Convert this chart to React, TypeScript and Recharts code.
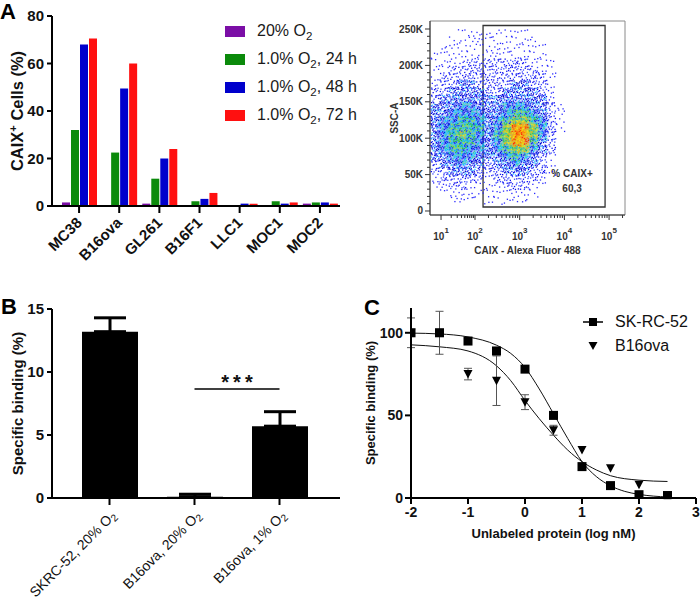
import React from 'react';
import {
  BarChart, Bar, XAxis, YAxis, Legend, Label, ErrorBar, ReferenceLine,
  ScatterChart, Scatter, ReferenceArea, ComposedChart, Line,
} from 'recharts';

const FONT = '"Liberation Sans", Arial, Helvetica, sans-serif';

/* ---------------- Panel A : CAIX+ cells ---------------- */
const cellLines = ['MC38', 'B16ova', 'GL261', 'B16F1', 'LLC1', 'MOC1', 'MOC2'];
const caix20 = [1.5, 0, 1, 0, 0, 0, 1];
const caix24h = [32, 22.5, 11.5, 2, 0, 2, 1.5];
const caix48h = [68, 49.5, 20, 3, 1, 1, 1.5];
const caix72h = [70.5, 60, 24, 5.5, 1, 1.5, 1];
const seriesA = ['20% O2', '1.0% O2, 24 h', '1.0% O2, 48 h', '1.0% O2, 72 h'];
const colorsA = ['#7b0ea6', '#0b8a0b', '#0000cc', '#ff1010'];
const yTicksA = [0, 20, 40, 60, 80];

/* ---------------- Flow plot ---------------- */
const flowYMajor = [0, 50, 100, 150, 200, 250];
const flowYLabels = ['0', '50K', '100K', '150K', '200K', '250K'];
const flowDecadeU = [1.24, 2, 3, 4, 5];
const flowDecadeExp = ['1', '2', '3', '4', '5'];
const gateX = [2.18, 4.91];
const gateY = [5.5, 254.8];
const gateName = '% CAIX+';
const gateValue = '60,3';
const flowXLabel = 'CAIX - Alexa Fluor 488';
const flowYLabel = 'SSC-A';
const densityX = [1.1, 1.3, 1.5, 1.7, 1.9, 2.1, 2.3, 2.5, 2.7, 2.9, 3.1, 3.3, 3.5, 3.7, 3.9, 4.1];
const densityY = [245, 235, 225, 215, 205, 195, 185, 175, 165, 155, 145, 135, 125, 115, 105, 95, 85, 75, 65, 55, 45, 35, 25, 15];
const densityRows = [
  '0001111111100000',
  '0011111111110000',
  '0111111111111000',
  '1111111111111000',
  '1111222222211100',
  '1122222222221100',
  '1222222222222100',
  '1223322223322100',
  '2233332233332100',
  '2333333333333100',
  '3334433344433210',
  '3344443345543210',
  '3445543456654210',
  '3455553467764210',
  '3456543567764200',
  '3455543467753200',
  '3455443456643200',
  '3344433345432100',
  '2334332334332100',
  '2233322233322100',
  '1222221222221000',
  '1122111122211000',
  '0111111111110000',
  '0011101111100000',
];

/* ---------------- Panel B : binding ---------------- */
const bindGroups = ['SKRC-52, 20% O2', 'B16ova, 20% O2', 'B16ova, 1% O2'];
const bindMean = [13.2, 0.1, 5.7];
const bindErrUp = [1.1, 0.2, 1.15];
const yTicksB = [0, 5, 10, 15];
const sigY = 8.65;
const sigMark = '***';

/* ---------------- Panel C : competition ---------------- */
const skX = [-2, -1.5, -1, -0.5, 0, 0.5, 1, 1.5, 2, 2.5];
const skY = [100, 100, 95, 89, 78, 50, 19, 7.5, 2, 1.5];
const skErr = [0, 0, 0, 2, 0, 0, 0, 0, 0, 2];
const b16X = [-2, -1.5, -1, -0.5, 0, 0.5, 1, 1.5, 2];
const b16Y = [100, 100, 75, 71, 58, 41, 29, 18, 8];
const b16Err = [9, 13, 3.5, 15, 4.5, 3, 0, 0, 0];
const skFitX = [-2, -1.5, -1, -0.5, -0.25, 0, 0.25, 0.5, 0.75, 1, 1.25, 1.5, 1.75, 2, 2.5];
const skFitY = [99.8, 99.3, 97.5, 92.5, 87.5, 79, 66, 51, 36, 22, 13, 7.4, 4, 2.2, 0.6];
const b16FitX = [-2, -1.5, -1, -0.5, -0.25, 0, 0.25, 0.5, 0.75, 1, 1.25, 1.5, 2, 2.5];
const b16FitY = [92.7, 91.5, 89, 80, 71, 59, 48, 38, 29, 22, 17, 13.5, 10.8, 10];
const xTicksC = [-2, -1, 0, 1, 2, 3];
const yTicksC = [0, 50, 100];
const legendC = ['SK-RC-52', 'B16ova'];

/* ---------------- helpers ---------------- */
const htmlO2 = (s: string) => {
  const i = s.indexOf('O2');
  if (i < 0) return s;
  return (
    <>
      {s.slice(0, i + 1)}
      <sub style={{ fontSize: '0.72em', lineHeight: 0 }}>2</sub>
      {s.slice(i + 2)}
    </>
  );
};
const svgO2 = (s: string, fs: number) => {
  const i = s.indexOf('O2');
  if (i < 0) return s;
  return [
    <tspan key="a">{s.slice(0, i + 1)}</tspan>,
    <tspan key="b" fontSize={fs * 0.72} dy={fs * 0.18}>2</tspan>,
  ];
};

const vLabel = (content: React.ReactNode, dx: number, fs: number, fill = '#111') => (lp: any) => {
  const vb = lp.viewBox || { x: 0, y: 0, width: 0, height: 0 };
  const cx = vb.x + dx;
  const cy = vb.y + vb.height / 2;
  return (
    <text transform={`translate(${cx},${cy}) rotate(-90)`} textAnchor="middle" dy="0.35em"
      fontFamily={FONT} fontWeight="bold" fontSize={fs} fill={fill}>{content}</text>
  );
};
const hLabel = (content: React.ReactNode, dy: number, fs: number, fill = '#111') => (lp: any) => {
  const vb = lp.viewBox || { x: 0, y: 0, width: 0, height: 0 };
  return (
    <text x={vb.x + vb.width / 2} y={vb.y + dy} textAnchor="middle" dy="0.35em"
      fontFamily={FONT} fontWeight="bold" fontSize={fs} fill={fill}>{content}</text>
  );
};

const makeYTick = (len: number, gap: number, fs: number) => (p: any) => (
  <g>
    <line x1={p.x - len} y1={p.y} x2={p.x} y2={p.y} stroke="#000" strokeWidth={2} />
    <text x={p.x - len - gap} y={p.y} dy="0.35em" textAnchor="end" fontFamily={FONT}
      fontWeight="bold" fontSize={fs} fill="#111">{p.payload.value}</text>
  </g>
);

/* ---------------- Panel A ---------------- */
const TickA = (p: any) => (
  <g>
    <line x1={p.x} y1={p.y} x2={p.x} y2={p.y + 7} stroke="#000" strokeWidth={2} />
    <text transform={`translate(${p.x},${p.y + 14}) rotate(-45)`} textAnchor="end" dy="0.35em"
      fontFamily={FONT} fontWeight="bold" fontSize={15} fill="#111">{p.payload.value}</text>
  </g>
);

const LegendA = () => (
  <div style={{ fontFamily: FONT, fontSize: 16, color: '#1a1a1a' }}>
    {seriesA.map((name, i) => (
      <div key={name} style={{ display: 'flex', alignItems: 'center', height: 28, whiteSpace: 'nowrap' }}>
        <span style={{ display: 'inline-block', width: 20, height: 11, background: colorsA[i], marginRight: 12 }} />
        <span>{htmlO2(name)}</span>
      </div>
    ))}
  </div>
);

const dataA = cellLines.map((name, i) => ({ name, s0: caix20[i], s1: caix24h[i], s2: caix48h[i], s3: caix72h[i] }));

const PanelA = () => (
  <BarChart width={380} height={290} data={dataA} margin={{ top: 16, right: 40, left: 0, bottom: 0 }}
    barCategoryGap={3} barGap={1}>
    <XAxis dataKey="name" padding={{ left: 7, right: 0 }} height={84} interval={0}
      axisLine={{ stroke: '#000', strokeWidth: 2 }} tickLine={false} tickSize={0} tickMargin={0}
      tick={(p: any) => <TickA {...p} />} />
    <YAxis domain={[0, 80]} ticks={yTicksA} width={52} interval={0}
      axisLine={{ stroke: '#000', strokeWidth: 2 }} tickLine={false} tickSize={0} tickMargin={0}
      tick={makeYTick(5, 3, 15)}>
      <Label content={vLabel(<>CAIX<tspan dy={-6} fontSize={11}>+</tspan><tspan dy={6}> Cells (%)</tspan></>, 17, 16.5)} />
    </YAxis>
    {['s0', 's1', 's2', 's3'].map((k, i) => (
      <Bar key={k} dataKey={k} name={seriesA[i]} fill={colorsA[i]} isAnimationActive={false} />
    ))}
    <Legend content={() => <LegendA />} layout="vertical" align="center" verticalAlign="middle"
      wrapperStyle={{ left: 225, top: 17, width: 160 }} />
  </BarChart>
);

/* ---------------- Flow plot ---------------- */
const FLOW_XDOM = [0.993, 5.356];
const FLOW_YDOM = [-5.5, 261];
const FLOW_W = 290, FLOW_H = 270;
const FLOW_M = { top: 21, right: 15, left: 0, bottom: 0 };
const FLOW_YAXW = 80, FLOW_XAXH = 55;
const FLOW_PW = FLOW_W - FLOW_M.left - FLOW_M.right - FLOW_YAXW;
const FLOW_PH = FLOW_H - FLOW_M.top - FLOW_M.bottom - FLOW_XAXH;
const CELL_W = (densityX[1] - densityX[0]) * FLOW_PW / (FLOW_XDOM[1] - FLOW_XDOM[0]);
const CELL_H = (densityY[0] - densityY[1]) * FLOW_PH / (FLOW_YDOM[1] - FLOW_YDOM[0]);

const PAT = [[0.12, 0.18], [0.62, 0.08], [0.35, 0.55], [0.85, 0.45], [0.22, 0.82], [0.55, 0.3], [0.78, 0.88], [0.05, 0.5],
  [0.45, 0.95], [0.92, 0.2], [0.3, 0.05], [0.68, 0.62], [0.15, 0.38], [0.48, 0.72], [0.88, 0.7], [0.02, 0.92],
  [0.4, 0.25], [0.72, 0.35], [0.25, 0.65], [0.6, 0.5], [0.95, 0.98], [0.08, 0.02], [0.52, 0.12], [0.8, 0.05]];
const levelBg = ['', '', '', '', '#2a46ff', '#18a8d8', '#6ccc48', '#f2a018'];
const levelBgOp = [0, 0, 0, 0, 0.4, 0.7, 0.85, 0.95];
const levelDots = [[], ['#2a2aff'], ['#1010f0', '#3a4aff'], ['#0000e6', '#1a3aff', '#30b8ff', '#0000c8'],
  ['#00c8ff', '#0010d8', '#30d8a0', '#1a30ff'], ['#30c030', '#00c0e0', '#1a30f0', '#a0e040'],
  ['#e8e820', '#30c060', '#20b0d0', '#ffb000'], ['#ff2a00', '#ffd000', '#ff7000', '#e8e820']];
const levelDotCount = [0, 3, 9, 20, 22, 20, 18, 18];

const densityCells = densityRows.flatMap((row, r) =>
  row.split('').map((ch, c) => ({ x: densityX[c], y: densityY[r], level: Number(ch), seed: (c * 7 + r * 5) % PAT.length })),
).filter((d) => d.level > 0);

const BgShape = (p: any) => {
  const lvl = p.payload.level;
  if (!levelBg[lvl]) return <g />;
  return <rect x={p.cx - CELL_W / 2 - 0.5} y={p.cy - CELL_H / 2 - 0.5} width={CELL_W + 1} height={CELL_H + 1}
    fill={levelBg[lvl]} fillOpacity={levelBgOp[lvl]} />;
};
const DotShape = (p: any) => {
  const { level, seed } = p.payload;
  const x0 = p.cx - CELL_W / 2, y0 = p.cy - CELL_H / 2;
  const cols = levelDots[level];
  const out = [];
  for (let k = 0; k < levelDotCount[level]; k++) {
    const q = PAT[(k + seed) % PAT.length];
    out.push(<rect key={k} x={x0 + q[0] * CELL_W} y={y0 + q[1] * CELL_H} width={1.3} height={1.3} fill={cols[k % cols.length]} />);
  }
  return <g>{out}</g>;
};

const flowYTicks: number[] = [];
for (let v = 0; v <= 250; v += 10) flowYTicks.push(v);
const flowXTicks: number[] = [...flowDecadeU];
for (let d = 0; d < flowDecadeU.length - 1; d++) {
  for (let k = 2; k <= 9; k++) flowXTicks.push(flowDecadeU[d] + (flowDecadeU[d + 1] - flowDecadeU[d]) * Math.log10(k));
}
flowXTicks.push(5 + Math.log10(2));

const FlowYTick = (p: any) => {
  const idx = flowYMajor.indexOf(p.payload.value);
  const major = idx >= 0;
  return (
    <g>
      <line x1={p.x - (major ? 5 : 3)} y1={p.y} x2={p.x} y2={p.y} stroke="#333" strokeWidth={1} />
      {major && (
        <text x={p.x - 7} y={p.y} dy="0.35em" textAnchor="end" fontFamily={FONT} fontWeight="bold"
          fontSize={10} fill="#333">{flowYLabels[idx]}</text>
      )}
    </g>
  );
};
const FlowXTick = (p: any) => {
  const idx = flowDecadeU.findIndex((u) => Math.abs(u - p.payload.value) < 1e-6);
  const major = idx >= 0;
  return (
    <g>
      <line x1={p.x} y1={p.y} x2={p.x} y2={p.y + (major ? 5 : 3)} stroke="#333" strokeWidth={1} />
      {major && (
        <text x={p.x} y={p.y + 25} textAnchor="middle" fontFamily={FONT} fontWeight="bold" fontSize={10} fill="#333">
          10<tspan dy={-7} fontSize={8}>{flowDecadeExp[idx]}</tspan>
        </text>
      )}
    </g>
  );
};

const gateLabel = (lp: any) => {
  const vb = lp.viewBox || { x: 0, y: 0, width: 0, height: 0 };
  const cx = vb.x + vb.width - 33;
  const by = vb.y + vb.height;
  return (
    <g fontFamily={FONT} fontWeight="bold" fontSize={10} fill="#333">
      <text x={cx} y={by - 33} dy="0.35em" textAnchor="middle">{gateName}</text>
      <text x={cx} y={by - 18} dy="0.35em" textAnchor="middle">{gateValue}</text>
    </g>
  );
};

const FlowPlot = () => (
  <ScatterChart width={FLOW_W} height={FLOW_H} margin={FLOW_M}>
    <XAxis dataKey="x" type="number" domain={FLOW_XDOM} allowDataOverflow ticks={flowXTicks} interval={0}
      height={FLOW_XAXH} axisLine={{ stroke: '#333' }} tickLine={false} tickSize={0} tickMargin={0}
      tick={(p: any) => <FlowXTick {...p} />}>
      <Label content={hLabel(flowXLabel, 35, 10, '#333')} />
    </XAxis>
    <YAxis dataKey="y" type="number" domain={FLOW_YDOM} allowDataOverflow ticks={flowYTicks} interval={0}
      width={FLOW_YAXW} axisLine={{ stroke: '#333' }} tickLine={false} tickSize={0} tickMargin={0}
      tick={(p: any) => <FlowYTick {...p} />}>
      <Label content={vLabel(flowYLabel, 44, 10, '#333')} />
    </YAxis>
    <Scatter data={densityCells} className="flow-bg" shape={(p: any) => <BgShape {...p} />} isAnimationActive={false} />
    <Scatter data={densityCells} shape={(p: any) => <DotShape {...p} />} isAnimationActive={false} />
    <ReferenceArea x1={FLOW_XDOM[0]} x2={FLOW_XDOM[1]} y1={FLOW_YDOM[0]} y2={FLOW_YDOM[1]} fill="none"
      fillOpacity={0} stroke="#8a8a8a" strokeWidth={1} ifOverflow="visible" />
    <ReferenceArea x1={gateX[0]} x2={gateX[1]} y1={gateY[0]} y2={gateY[1]} fill="none" fillOpacity={0}
      stroke="#333" strokeWidth={1.3} ifOverflow="visible" label={gateLabel} />
  </ScatterChart>
);

/* ---------------- Panel B ---------------- */
const TickB = (p: any) => (
  <g>
    <line x1={p.x} y1={p.y} x2={p.x} y2={p.y + 7} stroke="#000" strokeWidth={2} />
    <text transform={`translate(${p.x + 4},${p.y + 15}) rotate(-45)`} textAnchor="end" dy="0.35em"
      fontFamily={FONT} fontSize={14} fill="#111">{svgO2(p.payload.value, 14)}</text>
  </g>
);
const sigLabel = (lp: any) => {
  const vb = lp.viewBox || { x: 0, y: 0, width: 0, height: 0 };
  return (
    <text x={vb.x + vb.width / 2 + 2} y={vb.y} textAnchor="middle" fontFamily={FONT} fontWeight="bold"
      fontSize={20} letterSpacing={4} fill="#111">{sigMark}</text>
  );
};
const dataB = bindGroups.map((g, i) => ({ g, v: bindMean[i], e: [0, bindErrUp[i]] }));

const PanelB = () => (
  <BarChart width={350} height={305} data={dataB} margin={{ top: 14, right: 10, left: 0, bottom: 0 }} barSize={56}>
    <XAxis dataKey="g" padding={{ left: 15, right: 18 }} height={102} interval={0}
      axisLine={{ stroke: '#000', strokeWidth: 2 }} tickLine={false} tickSize={0} tickMargin={0}
      tick={(p: any) => <TickB {...p} />} />
    <YAxis domain={[0, 15]} ticks={yTicksB} width={52} interval={0}
      axisLine={{ stroke: '#000', strokeWidth: 2 }} tickLine={false} tickSize={0} tickMargin={0}
      tick={makeYTick(5, 3, 15)}>
      <Label content={vLabel('Specific binding (%)', 18, 15)} />
    </YAxis>
    <Bar dataKey="v" fill="#000" isAnimationActive={false}>
      <ErrorBar dataKey="e" width={16} strokeWidth={3} stroke="#000" direction="y" isAnimationActive={false} />
    </Bar>
    <ReferenceLine segment={[{ x: bindGroups[1], y: sigY }, { x: bindGroups[2], y: sigY }]} stroke="#000"
      strokeWidth={1.5} label={sigLabel} />
  </BarChart>
);

/* ---------------- Panel C ---------------- */
const SquareShape = (p: any) => <rect x={p.cx - 4.5} y={p.cy - 4.5} width={9} height={9} fill="#000" />;
const TriShape = (p: any) => <path d={`M${p.cx - 4.5},${p.cy - 4} L${p.cx + 4.5},${p.cy - 4} L${p.cx},${p.cy + 4.5} Z`} fill="#000" />;

const XTickC = (p: any) => (
  <g>
    <line x1={p.x} y1={p.y} x2={p.x} y2={p.y + 6} stroke="#000" strokeWidth={2} />
    <text x={p.x} y={p.y + 9} dy="0.72em" textAnchor="middle" fontFamily={FONT} fontWeight="bold"
      fontSize={14} fill="#111">{p.payload.value}</text>
  </g>
);

const LegendCBox = () => (
  <div style={{ fontFamily: FONT, fontSize: 16, color: '#111' }}>
    {legendC.map((name, i) => (
      <div key={name} style={{ display: 'flex', alignItems: 'center', height: 24, whiteSpace: 'nowrap' }}>
        <svg width={20} height={12} style={{ marginRight: 12 }}>
          {i === 0 ? (
            <>
              <line x1={0} y1={6} x2={20} y2={6} stroke="#000" strokeWidth={1.5} />
              <rect x={6} y={2} width={8} height={8} fill="#000" />
            </>
          ) : (
            <path d="M5.5,2 L14.5,2 L10,10 Z" fill="#000" />
          )}
        </svg>
        <span>{name}</span>
      </div>
    ))}
  </div>
);

const skPts = skX.map((x, i) => ({ x, y: skY[i], e: skErr[i] }));
const b16Pts = b16X.map((x, i) => ({ x, y: b16Y[i], e: b16Err[i] }));
const skFit = skFitX.map((x, i) => ({ x, y: skFitY[i] }));
const b16Fit = b16FitX.map((x, i) => ({ x, y: b16FitY[i] }));

const PanelC = () => (
  <ComposedChart width={350} height={305} margin={{ top: 13, right: 4, left: 0, bottom: 0 }}>
    <XAxis dataKey="x" type="number" domain={[-2, 3]} ticks={xTicksC} allowDataOverflow interval={0} height={102}
      axisLine={{ stroke: '#000', strokeWidth: 2 }} tickLine={false} tickSize={0} tickMargin={0}
      tick={(p: any) => <XTickC {...p} />}>
      <Label content={hLabel('Unlabeled protein (log nM)', 35, 13)} />
    </XAxis>
    <YAxis type="number" domain={[0, 115]} ticks={yTicksC} allowDataOverflow width={61} interval={0}
      axisLine={{ stroke: '#000', strokeWidth: 2 }} tickLine={false} tickSize={0} tickMargin={0}
      tick={makeYTick(6, 2, 14)}>
      <Label content={vLabel('Specific binding (%)', 20, 13)} />
    </YAxis>
    <Line data={skFit} dataKey="y" type="monotone" dot={false} stroke="#111" strokeWidth={1} isAnimationActive={false} />
    <Line data={b16Fit} dataKey="y" type="monotone" dot={false} stroke="#111" strokeWidth={1} isAnimationActive={false} />
    <Scatter data={b16Pts} dataKey="y" shape={(p: any) => <TriShape {...p} />} isAnimationActive={false}>
      <ErrorBar dataKey="e" direction="y" width={4} stroke="#555" strokeWidth={1} isAnimationActive={false} />
    </Scatter>
    <Scatter data={skPts} dataKey="y" shape={(p: any) => <SquareShape {...p} />} isAnimationActive={false}>
      <ErrorBar dataKey="e" direction="y" width={4} stroke="#555" strokeWidth={1} isAnimationActive={false} />
    </Scatter>
    <Legend content={() => <LegendCBox />} layout="vertical" align="center" verticalAlign="middle"
      wrapperStyle={{ left: 233, top: 15, width: 120 }} />
  </ComposedChart>
);

const letterStyle: React.CSSProperties = {
  position: 'absolute', fontFamily: FONT, fontWeight: 'bold', fontSize: 22, lineHeight: '22px', color: '#000',
};

export default function App() {
  return (
    <div style={{ position: 'absolute', left: 0, top: 0, width: 700, height: 600, background: '#fff', overflow: 'hidden' }}>
      <svg width={0} height={0} style={{ position: 'absolute' }}>
        <defs>
          <filter id="flowBlur" x="-10%" y="-10%" width="120%" height="120%">
            <feGaussianBlur stdDeviation="2.4" />
          </filter>
        </defs>
      </svg>
      <style>{'.flow-bg{filter:url(#flowBlur);}'}</style>
      <div style={{ position: 'absolute', left: 0, top: 0 }}><PanelA /></div>
      <div style={{ position: 'absolute', left: 350, top: 0 }}><FlowPlot /></div>
      <div style={{ position: 'absolute', left: 0, top: 295 }}><PanelB /></div>
      <div style={{ position: 'absolute', left: 350, top: 295 }}><PanelC /></div>
      <div style={{ ...letterStyle, left: 0, top: 1 }}>A</div>
      <div style={{ ...letterStyle, left: 1, top: 296 }}>B</div>
      <div style={{ ...letterStyle, left: 364, top: 297 }}>C</div>
    </div>
  );
}
